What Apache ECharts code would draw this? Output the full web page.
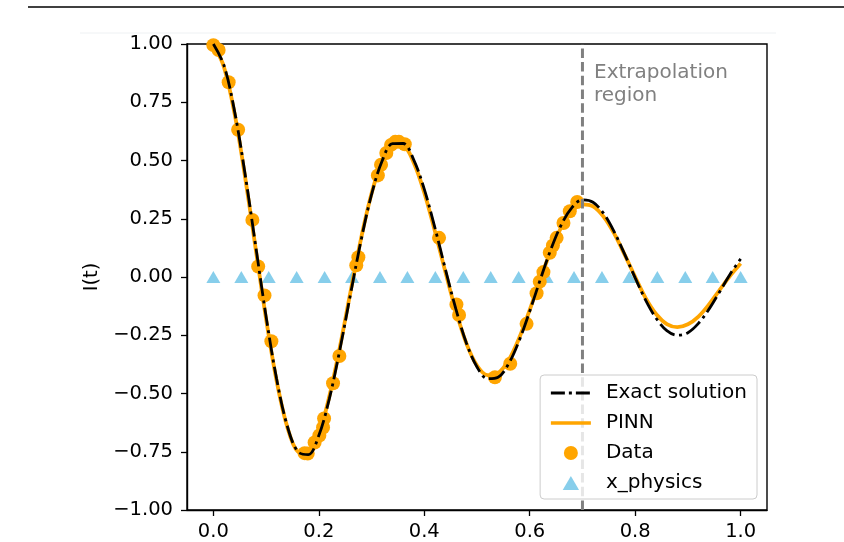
<!DOCTYPE html>
<html>
<head>
<meta charset="utf-8">
<script src="https://cdn.jsdelivr.net/npm/echarts@6/dist/echarts.min.js"></script>
<style>
  html, body { margin: 0; padding: 0; background: #fff; }
  #chart { width: 844px; height: 542px; }
</style>
</head>
<body>
<div id="chart"></div>
<script>
// time grid for the two curves
const tGrid = [0.00, 0.02, 0.04, 0.06, 0.08, 0.10, 0.12, 0.14, 0.16, 0.18,
  0.20, 0.22, 0.24, 0.26, 0.28, 0.30, 0.32, 0.34, 0.36, 0.38,
  0.40, 0.42, 0.44, 0.46, 0.48, 0.50, 0.52, 0.54, 0.56, 0.58,
  0.60, 0.62, 0.64, 0.66, 0.68, 0.70, 0.72, 0.74, 0.76, 0.78,
  0.80, 0.82, 0.84, 0.86, 0.88, 0.90, 0.92, 0.94, 0.96, 0.98, 1.00];

const exactI = [1.000, 0.909, 0.714, 0.444, 0.137, -0.170, -0.438, -0.638, -0.749, -0.762,
  -0.680, -0.522, -0.311, -0.075, 0.156, 0.354, 0.498, 0.572, 0.573, 0.503,
  0.377, 0.213, 0.034, -0.138, -0.284, -0.386, -0.436, -0.430, -0.372, -0.273,
  -0.147, -0.011, 0.118, 0.225, 0.298, 0.331, 0.321, 0.273, 0.195, 0.098,
  -0.004, -0.100, -0.178, -0.230, -0.250, -0.239, -0.199, -0.138, -0.064, 0.012, 0.078];

const pinnI = [0.998, 0.902, 0.704, 0.432, 0.125, -0.180, -0.446, -0.642, -0.749, -0.758,
  -0.673, -0.512, -0.300, -0.065, 0.164, 0.358, 0.498, 0.566, 0.563, 0.491,
  0.362, 0.198, 0.022, -0.146, -0.286, -0.380, -0.421, -0.412, -0.357, -0.262,
  -0.141, -0.010, 0.113, 0.214, 0.282, 0.312, 0.303, 0.259, 0.187, 0.096,
  0.000, -0.091, -0.160, -0.202, -0.215, -0.203, -0.170, -0.118, -0.056, 0.005, 0.058];

// training data
const dataT = [0.000, 0.010, 0.029, 0.047, 0.074, 0.085, 0.097, 0.110, 0.173, 0.179,
  0.192, 0.201, 0.208, 0.210, 0.227, 0.239, 0.271, 0.275, 0.312, 0.318,
  0.328, 0.337, 0.345, 0.352, 0.363, 0.428, 0.461, 0.466, 0.534, 0.563,
  0.594, 0.613, 0.619, 0.626, 0.638, 0.644, 0.651, 0.664, 0.676, 0.690];
const dataI = [0.995, 0.974, 0.836, 0.632, 0.245, 0.045, -0.079, -0.276, -0.756, -0.758,
  -0.710, -0.680, -0.646, -0.607, -0.456, -0.339, 0.050, 0.085, 0.436, 0.482,
  0.532, 0.567, 0.580, 0.580, 0.570, 0.168, -0.118, -0.163, -0.430, -0.372,
  -0.201, -0.070, -0.020, 0.021, 0.104, 0.135, 0.168, 0.232, 0.282, 0.322];

// collocation points
const physicsT = [0.000, 0.053, 0.105, 0.158, 0.211, 0.263, 0.316, 0.368, 0.421, 0.474,
  0.526, 0.579, 0.632, 0.684, 0.737, 0.789, 0.842, 0.895, 0.947, 1.000];
const physicsI = [0, 0, 0, 0, 0, 0, 0, 0, 0, 0, 0, 0, 0, 0, 0, 0, 0, 0, 0, 0];

const xTicks = [0, 0.2, 0.4, 0.6, 0.8, 1.0];
const trainEnd = 0.7;

const FONT = '"DejaVu Sans", sans-serif';
const FS = 19.5;
const FS_LEG = 20;

const zip = (a, b) => a.map((v, i) => [v, b[i]]);
const fmt = (v, d) => v.toFixed(d).replace('-', '\u2212');

const chart = echarts.init(document.getElementById('chart'), null, { renderer: 'canvas' });

const option = {
  animation: false,
  backgroundColor: '#fff',
  textStyle: { fontFamily: FONT },
  grid: {
    left: 187, right: 77, top: 44, bottom: 32,
    show: true, borderColor: '#000', borderWidth: 1.4, backgroundColor: 'transparent'
  },
  xAxis: {
    type: 'value', min: -0.05, max: 1.05,
    splitLine: { show: false },
    axisLine: { onZero: false, lineStyle: { color: '#000', width: 1.4 } },
    axisTick: { customValues: xTicks, length: 6, lineStyle: { color: '#000', width: 1.3 } },
    axisLabel: {
      customValues: xTicks, margin: 12, color: '#000', fontFamily: FONT, fontSize: FS,
      formatter: v => fmt(v, 1)
    }
  },
  yAxis: {
    type: 'value', min: -1, max: 1, interval: 0.25,
    name: 'I(t)', nameLocation: 'middle', nameGap: 82,
    nameTextStyle: { color: '#000', fontFamily: FONT, fontSize: FS },
    splitLine: { show: false },
    axisLine: { onZero: false, lineStyle: { color: '#000', width: 1.4 } },
    axisTick: { length: 6, lineStyle: { color: '#000', width: 1.3 } },
    axisLabel: {
      margin: 14, color: '#000', fontFamily: FONT, fontSize: FS,
      formatter: v => fmt(v, 2)
    }
  },
  legend: {
    data: [
      { name: 'Exact solution', itemStyle: { opacity: 0 }, lineStyle: { width: 2.8, type: [14, 4, 3, 4] } },
      { name: 'PINN', itemStyle: { opacity: 0 }, lineStyle: { width: 3.5 } },
      { name: 'Data' },
      { name: 'x_physics', icon: 'path://M0 12 L7 0 L14 12 Z' }
    ],
    orient: 'vertical', right: 87, bottom: 43, z: 10,
    itemWidth: 40, itemHeight: 14, itemGap: 10,
    padding: [8, 10, 6, 9],
    backgroundColor: 'rgba(255,255,255,0.8)',
    borderColor: '#cccccc', borderWidth: 1, borderRadius: 4,
    textStyle: { color: '#000', fontFamily: FONT, fontSize: FS_LEG, lineHeight: 20, padding: [0, 0, 0, 10] }
  },
  series: [
    {
      name: 'Exact solution', type: 'line', z: 5,
      data: zip(tGrid, exactI), smooth: 0.35, symbol: 'none',
      lineStyle: { color: '#000', width: 2.8, type: [18, 4.5, 3, 4.5] },
      itemStyle: { color: '#000' }
    },
    {
      name: 'PINN', type: 'line', z: 4,
      data: zip(tGrid, pinnI), smooth: 0.35, symbol: 'none',
      lineStyle: { color: '#ffa500', width: 3.8 },
      itemStyle: { color: '#ffa500' }
    },
    {
      name: 'Data', type: 'scatter', z: 3,
      data: zip(dataT, dataI), symbol: 'circle', symbolSize: 14,
      itemStyle: { color: '#ffa500', opacity: 1 }
    },
    {
      name: 'x_physics', type: 'scatter', z: 2,
      data: zip(physicsT, physicsI), symbol: 'triangle', symbolSize: [14, 12],
      itemStyle: { color: '#87ceeb', opacity: 1 }
    },
    {
      name: 'boundary', type: 'line', z: 6,
      data: [[trainEnd, -1], [trainEnd, 1]], symbol: 'none',
      lineStyle: { color: '#808080', width: 3, type: [9.5, 4.2] }
    }
  ]
};

chart.setOption(option);

// annotation next to the boundary line
const lab = chart.convertToPixel({ gridIndex: 0 }, [0.72, 0.93]);
chart.setOption({
  graphic: [
    {
      type: 'line', silent: true,
      shape: { x1: 28, y1: 7, x2: 844, y2: 7 },
      style: { stroke: '#000', lineWidth: 1.5 }
    },
    {
      type: 'line', silent: true,
      shape: { x1: 80, y1: 33, x2: 776, y2: 33 },
      style: { stroke: '#eef1f3', lineWidth: 1 }
    },
    {
      type: 'text', silent: true, z: 20,
      x: lab[0] + 1, y: lab[1] + 1,
      style: {
        text: 'Extrapolation\nregion', fill: '#808080',
        font: FS_LEG + 'px ' + FONT, lineHeight: 23,
        textAlign: 'left', textVerticalAlign: 'top'
      }
    }
  ]
});
</script>
</body>
</html>
